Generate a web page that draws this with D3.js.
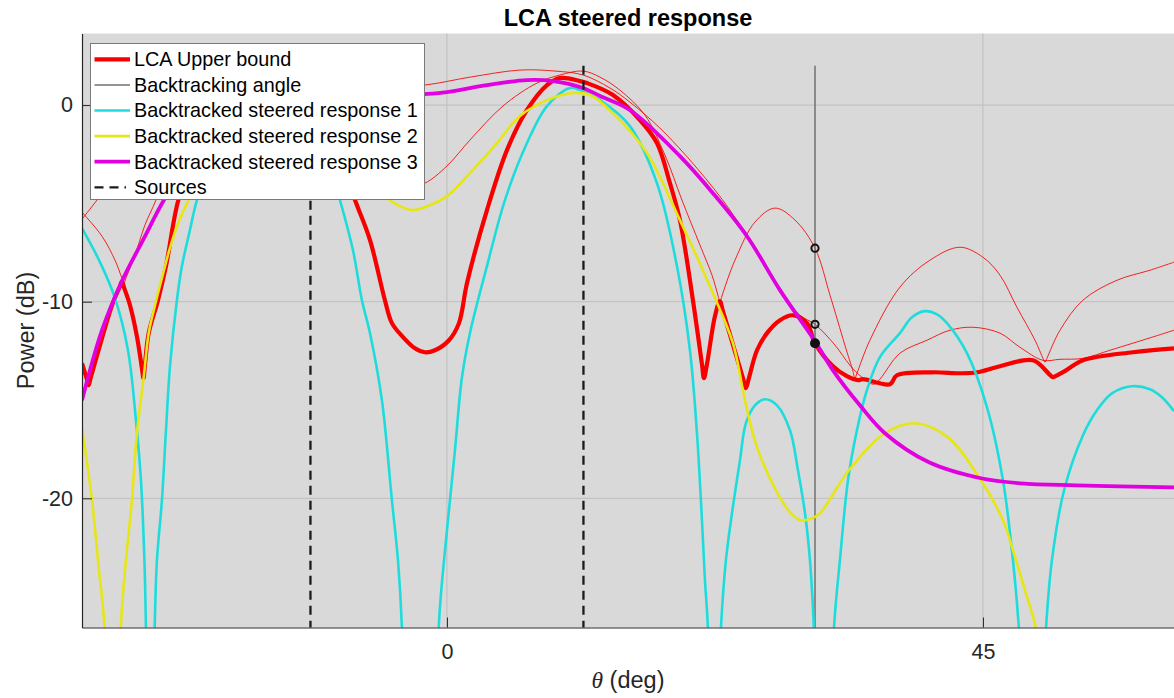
<!DOCTYPE html>
<html>
<head>
<meta charset="utf-8">
<script src="https://cdn.jsdelivr.net/npm/d3@7"></script>
<style>
  body { margin: 0; background: #fff; }
  svg { display: block; font-family: "Liberation Sans", Arial, Helvetica, sans-serif; }
</style>
</head>
<body>
<svg id="chart" width="1174" height="698"></svg>
<script>
// ---- axis settings ----
const thetaDomain = [-30.64, 61.04];
const powerDomain = [-26.57, 3.64];
const xTicks = [0, 45];
const yTicks = [-20, -10, 0];

// ---- source directions and backtracking angle (deg) ----
const sourceAngles = [-11.46, 11.46];
const backtrackAngle = 30.9;
const verticalSpan = [2, -30];
const boundsAtBacktrack = [-7.28, -11.15];
const chosenAtBacktrack = [-12.11];

// ---- LCA upper bound [theta deg, power dB] ----
const upperBound = [
  [-30.64,-13.13],[-30.22,-13.97],[-30.08,-14.25],[-29.93,-13.92],[-29.13,-12.21],[-28.12,-10.18],
  [-27.45,-9.21],[-27.29,-8.96],[-27.12,-9.26],[-26.61,-10.18],[-26.03,-11.76],[-25.61,-13.38],
  [-25.48,-13.89],[-25.36,-13.23],[-25.04,-11.60],[-24.26,-9.92],[-23.59,-8.19],[-22.55,-4.83],
  [-21.58,-3.31],[-19.90,-1.27],[-17.38,0.0],[-14.86,0.51],[-12.34,0.25],[-9.82,-1.27],
  [-7.72,-4.83],[-6.46,-6.87],[-5.21,-9.92],[-4.62,-11.09],[-3.78,-11.74],[-2.69,-12.37],
  [-1.85,-12.57],[-1.01,-12.47],[0.17,-11.96],[1.01,-11.09],[1.68,-9.06],[3.36,-5.34],
  [5.04,-2.29],[6.72,-0.25],[8.40,1.02],[9.49,1.37],[11.17,1.22],[11.75,1.12],
  [13.94,0.51],[16.20,-0.76],[17.63,-1.93],[18.72,-3.97],[19.56,-5.85],[20.65,-9.92],
  [21.41,-13.18],[21.58,-13.89],[21.83,-13.18],[22.50,-10.74],[22.92,-9.97],[23.17,-10.48],
  [24.85,-13.89],[25.10,-14.40],[25.35,-13.89],[26.03,-12.47],[26.87,-11.60],[27.96,-10.94],
  [29.05,-10.69],[30.22,-11.09],[30.90,-12.11],[32.41,-13.28],[33.58,-13.79],[34.51,-13.99],
  [34.92,-13.94],[37.19,-14.20],[37.78,-13.74],[40.80,-13.59],[43.07,-13.64],[44.50,-13.59],
  [46.43,-13.28],[49.20,-12.98],[50.62,-13.72],[50.87,-13.84],[51.13,-13.77],[51.97,-13.49],
  [53.40,-12.98],[57.59,-12.57],[61.04,-12.37]
];

// ---- per-response bounds (thin red) ----
const boundA = [
  [-30.64,-5.80],[-29.38,-4.83],[-27.45,-3.21],[-24.10,-1.02],[-19.06,0.25],[-12.34,0.76],
  [-5.63,0.92],[-1.85,1.02],[1.93,1.42],[6.13,1.78],[9.07,1.73],[11.42,1.53],
  [13.68,0.87],[15.36,0.15],[17.88,-1.17],[20.99,-3.21],[23.76,-5.34],[26.28,-7.74],
  [27.96,-9.41],[29.64,-10.69],[30.90,-11.15],[32.58,-12.21],[33.83,-13.23],[34.84,-13.84],
  [35.85,-14.20],[36.35,-13.94],[38.03,-12.62],[40.30,-11.96],[42.23,-11.45],[44.16,-11.30],
  [46.43,-11.60],[48.11,-12.32],[50.04,-12.98],[51.47,-12.93],[53.40,-12.88],[55.66,-12.47],
  [57.59,-12.11],[59.44,-11.76],[61.04,-11.45]
];
const boundB = [
  [-30.64,-5.45],[-28.96,-6.67],[-27.87,-7.89],[-27.29,-8.80],[-27.12,-9.06],[-26.95,-8.80],
  [-26.19,-7.63],[-25.36,-6.11],[-24.43,-4.83],[-22.84,-2.29],[-19.90,-0.25],[-15.70,0.51],
  [-11.50,-0.25],[-8.14,-1.78],[-5.21,-3.56],[-3.11,-4.12],[-1.85,-3.97],[0.0,-3.10],
  [1.93,-1.78],[4.70,-0.05],[7.56,1.12],[9.49,1.53],[11.42,1.73],[12.85,1.42],
  [14.52,0.76],[16.62,-0.51],[18.30,-2.54],[19.73,-4.83],[21.24,-7.12],[22.25,-8.65],
  [22.75,-9.67],[22.92,-10.03],[23.08,-9.72],[24.18,-7.89],[25.86,-5.95],[27.54,-5.24],
  [29.22,-5.85],[30.90,-7.28],[32.16,-9.67],[33.41,-12.21],[34.09,-13.54],[34.25,-13.89],
  [34.42,-13.64],[35.51,-11.96],[38.03,-9.26],[40.55,-7.89],[43.07,-7.23],[45.00,-7.74],
  [46.43,-8.65],[47.85,-10.28],[49.37,-11.96],[50.04,-12.88],[50.21,-13.08],[50.37,-12.88],
  [51.47,-11.45],[53.40,-9.92],[56.25,-8.91],[59.02,-8.40],[61.04,-7.99]
];

// ---- backtracked steered response 1 ----
const response1 = [
  [-30.64,-6.26],[-29.13,-7.99],[-27.87,-9.82],[-26.78,-12.47],[-26.11,-16.03],[-25.69,-19.08],
  [-25.40,-23.16],[-25.27,-26.62],[-24.94,-40],[-24.54,-26.62],[-24.35,-23.16],[-23.93,-20.10],
  [-23.59,-16.54],[-23.26,-13.33],[-22.67,-9.92],[-22.25,-8.19],[-21.58,-6.36],[-20.99,-4.83],
  [-19.48,-2.29],[-17.38,-0.25],[-14.86,0.66],[-12.34,-0.25],[-10.24,-2.29],[-8.98,-4.83],
  [-7.89,-7.38],[-7.14,-9.92],[-6.46,-11.60],[-5.46,-15.01],[-4.62,-20.10],[-4.11,-23.16],
  [-3.78,-26.62],[-3.44,-40],[-2.27,-30.3],[-1.09,-40],[-0.70,-26.62],[0.0,-21.63],
  [0.67,-17.56],[1.26,-13.84],[1.93,-11.60],[3.36,-8.19],[4.87,-4.83],[6.72,-1.93],
  [8.40,-0.05],[10.33,0.87],[11.17,0.76],[12.85,0.25],[15.36,-1.07],[17.63,-3.97],
  [19.31,-8.19],[20.40,-12.47],[20.99,-16.69],[21.41,-21.12],[21.66,-24.17],[21.91,-26.62],
  [22.25,-40],[23.00,-26.62],[23.42,-23.16],[23.93,-20.76],[24.60,-18.07],[25.10,-16.18],
  [25.86,-15.27],[26.70,-14.96],[27.71,-15.27],[28.80,-16.54],[29.47,-18.57],[30.06,-20.76],
  [30.48,-23.16],[30.81,-26.62],[31.65,-40],[32.49,-26.62],[32.99,-23.16],[33.67,-19.08],
  [34.42,-16.54],[35.26,-14.50],[36.35,-12.82],[38.03,-11.60],[39.04,-10.79],[40.13,-10.48],
  [41.14,-10.64],[41.98,-11.09],[43.66,-12.62],[45.34,-15.37],[46.68,-19.08],[47.52,-23.16],
  [48.02,-26.62],[49.11,-40],[50.29,-26.62],[50.79,-23.16],[51.81,-19.59],[53.40,-16.79],
  [54.57,-15.52],[55.83,-14.66],[57.51,-14.30],[59.02,-14.45],[60.03,-14.86],[61.04,-15.57]
];

// ---- backtracked steered response 2 ----
const response2 = [
  [-30.64,-16.39],[-29.80,-20.10],[-29.24,-23.51],[-28.74,-26.62],[-28.12,-40],[-27.39,-26.62],
  [-27.01,-23.51],[-26.45,-20.10],[-26.03,-16.69],[-25.46,-13.84],[-25.04,-11.60],[-24.51,-10.18],
  [-23.93,-8.80],[-23.26,-7.28],[-22.53,-5.95],[-21.69,-4.83],[-19.06,-2.29],[-15.70,-1.02],
  [-12.34,-1.02],[-8.14,-2.80],[-5.08,-4.73],[-3.95,-5.14],[-2.85,-5.34],[-1.43,-5.09],
  [0.0,-4.63],[1.93,-3.46],[4.20,-1.93],[6.13,-0.56],[8.40,0.25],[10.58,0.61],
  [12.01,0.51],[13.94,-0.41],[16.79,-2.44],[19.56,-5.85],[22.33,-9.57],[24.01,-12.11],
  [25.02,-15.01],[26.03,-17.40],[27.62,-19.59],[28.80,-20.71],[29.72,-21.12],[30.64,-21.02],
  [31.32,-20.76],[33.75,-18.57],[36.77,-16.69],[39.29,-16.18],[42.06,-16.90],[44.83,-19.08],
  [46.68,-21.12],[47.60,-22.80],[48.53,-24.68],[49.45,-26.62],[50.21,-30.28],[54.83,-35.37],
  [61.04,-37.91]
];

// ---- backtracked steered response 3 ----
const response3 = [
  [-30.64,-15.01],[-28.96,-11.45],[-27.29,-8.96],[-25.52,-6.87],[-23.76,-4.83],[-21.58,-2.80],
  [-19.06,-1.27],[-15.70,-0.36],[-10.66,0.20],[-5.63,0.46],[-1.85,0.56],[0.0,0.66],
  [3.36,1.02],[6.72,1.27],[8.90,1.22],[11.42,0.87],[12.85,0.46],[15.36,-0.25],
  [19.56,-2.60],[22.33,-4.48],[25.19,-6.67],[27.96,-9.41],[30.90,-12.01],[32.41,-13.49],
  [34.67,-15.27],[36.77,-16.69],[40.47,-18.17],[44.83,-18.98],[48.19,-19.24],[52.81,-19.34],
  [61.04,-19.44]
];

const legendLabels = [
  "LCA Upper bound",
  "Backtracking angle",
  "Backtracked steered response 1",
  "Backtracked steered response 2",
  "Backtracked steered response 3",
  "Sources"
];

// ---- layout ----
const plot = { left: 82, right: 1174, top: 33.5, bottom: 627.5 };
const axisColor = "#262626";
const colors = { red: "#f80000", cyan: "#1fdcdc", yellow: "#e6e614", magenta: "#e000e0", gray: "#707070", source: "#1a1a1a" };

const svg = d3.select("#chart");
const x = d3.scaleLinear().domain(thetaDomain).range([plot.left, plot.right]);
const y = d3.scaleLinear().domain(powerDomain).range([plot.bottom, plot.top]);

// axes background
svg.append("rect")
  .attr("x", plot.left).attr("y", plot.top)
  .attr("width", plot.right - plot.left).attr("height", plot.bottom - plot.top)
  .attr("fill", "#d9d9d9");

svg.append("defs").append("clipPath").attr("id", "plotClip")
  .append("rect")
  .attr("x", plot.left).attr("y", plot.top)
  .attr("width", plot.right - plot.left).attr("height", plot.bottom - plot.top);

// grid
const grid = svg.append("g").attr("stroke", "#bebebe").attr("stroke-width", 1);
grid.selectAll("line.gx").data(xTicks).join("line")
  .attr("x1", d => x(d)).attr("x2", d => x(d))
  .attr("y1", plot.top).attr("y2", plot.bottom);
grid.selectAll("line.gy").data(yTicks).join("line")
  .attr("x1", plot.left).attr("x2", plot.right)
  .attr("y1", d => y(d)).attr("y2", d => y(d));

const line = d3.line()
  .x(d => x(d[0])).y(d => y(d[1]))
  .curve(d3.curveCatmullRom.alpha(0.5));

const marks = svg.append("g").attr("clip-path", "url(#plotClip)");

// thin per-response bounds
[boundA, boundB].forEach(b => {
  marks.append("path").datum(b)
    .attr("d", line).attr("fill", "none")
    .attr("stroke", colors.red).attr("stroke-width", 1).attr("stroke-opacity", 0.85);
});

// LCA upper bound
marks.append("path").datum(upperBound)
  .attr("d", line).attr("fill", "none")
  .attr("stroke", colors.red).attr("stroke-width", 4.2).attr("stroke-linejoin", "round");

// backtracking angle
marks.append("line")
  .attr("x1", x(backtrackAngle)).attr("x2", x(backtrackAngle))
  .attr("y1", y(verticalSpan[0])).attr("y2", y(verticalSpan[1]))
  .attr("stroke", colors.gray).attr("stroke-width", 1.5);

// backtracked steered responses
[[response1, colors.cyan, 2.6], [response2, colors.yellow, 2.6], [response3, colors.magenta, 3.8]]
  .forEach(([data, c, w]) => {
    marks.append("path").datum(data)
      .attr("d", line).attr("fill", "none")
      .attr("stroke", c).attr("stroke-width", w).attr("stroke-linejoin", "round");
  });

// sources
marks.selectAll("line.src").data(sourceAngles).join("line")
  .attr("class", "src")
  .attr("x1", d => x(d)).attr("x2", d => x(d))
  .attr("y1", y(verticalSpan[0])).attr("y2", y(verticalSpan[1]))
  .attr("stroke", colors.source).attr("stroke-width", 2.3).attr("stroke-dasharray", "9,6");

// bound values at the backtracking angle
marks.selectAll("circle.open").data(boundsAtBacktrack).join("circle")
  .attr("cx", x(backtrackAngle)).attr("cy", d => y(d)).attr("r", 3.6)
  .attr("fill", "none").attr("stroke", "#111").attr("stroke-width", 2);
marks.selectAll("circle.fill").data(chosenAtBacktrack).join("circle")
  .attr("cx", x(backtrackAngle)).attr("cy", d => y(d)).attr("r", 5)
  .attr("fill", "#111");

// axes
const fontTick = 21.5;
const tickText = d => String(d);
const xAxis = svg.append("g").attr("transform", `translate(0,${plot.bottom})`)
  .call(d3.axisBottom(x).tickValues(xTicks).tickFormat(tickText)
    .tickSizeInner(-10).tickSizeOuter(0).tickPadding(16));
const yAxis = svg.append("g").attr("transform", `translate(${plot.left},0)`)
  .call(d3.axisLeft(y).tickValues(yTicks).tickFormat(tickText)
    .tickSizeInner(-10).tickSizeOuter(0).tickPadding(9));
[xAxis, yAxis].forEach(a => {
  a.select(".domain").attr("stroke", axisColor).attr("stroke-width", 1.2);
  a.selectAll(".tick line").attr("stroke", axisColor).attr("stroke-width", 1);
  a.selectAll(".tick text").attr("fill", axisColor)
    .style("font-size", fontTick + "px")
    .style("font-family", "'Liberation Sans', Arial, sans-serif");
});

// title and labels
svg.append("text")
  .attr("x", (plot.left + plot.right) / 2).attr("y", 26)
  .attr("text-anchor", "middle").attr("font-weight", "bold")
  .style("font-size", "23.5px").attr("fill", "#000")
  .text("LCA steered response");

const xl = svg.append("text")
  .attr("x", (plot.left + plot.right) / 2).attr("y", 688)
  .attr("text-anchor", "middle").style("font-size", "23.5px").attr("fill", axisColor);
xl.append("tspan").style("font-family", "'Liberation Serif', 'Times New Roman', serif")
  .style("font-style", "italic").text("θ");
xl.append("tspan").text(" (deg)");

svg.append("text")
  .attr("transform", `translate(34,${(plot.top + plot.bottom) / 2}) rotate(-90)`)
  .attr("text-anchor", "middle").style("font-size", "23.5px").attr("fill", axisColor)
  .text("Power (dB)");

// legend
const legend = svg.append("g");
legend.append("rect")
  .attr("x", 90.5).attr("y", 43.5).attr("width", 334).attr("height", 156)
  .attr("fill", "#fff").attr("stroke", "#7a7a7a").attr("stroke-width", 1);

const legendStyles = [
  { color: colors.red, width: 4.2, dash: null },
  { color: colors.gray, width: 1.5, dash: null },
  { color: colors.cyan, width: 2.6, dash: null },
  { color: colors.yellow, width: 2.6, dash: null },
  { color: colors.magenta, width: 3.8, dash: null },
  { color: colors.source, width: 2.3, dash: "9,6" }
];
const rowY = i => 59.3 + i * 25.6;
const rows = legend.selectAll("g.row").data(legendLabels).join("g")
  .attr("transform", (d, i) => `translate(0,${rowY(i)})`);
rows.append("line")
  .attr("x1", 94.5).attr("x2", (d, i) => legendStyles[i].dash ? 126 : 130)
  .attr("y1", 0).attr("y2", 0)
  .attr("stroke", (d, i) => legendStyles[i].color)
  .attr("stroke-width", (d, i) => legendStyles[i].width)
  .attr("stroke-dasharray", (d, i) => legendStyles[i].dash);
rows.append("text")
  .attr("x", 134).attr("y", 0).attr("dy", "0.35em")
  .style("font-size", "19.8px").attr("fill", "#000")
  .text(d => d);
</script>
</body>
</html>
